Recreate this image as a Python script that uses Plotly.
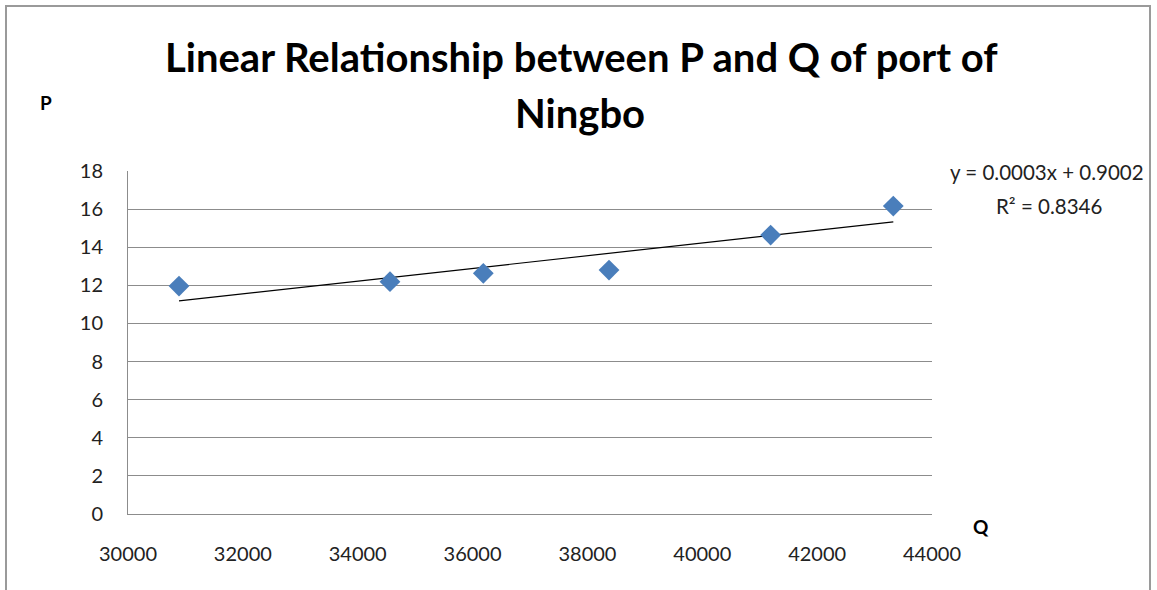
import plotly.graph_objects as go

# Port of Ningbo: throughput Q against P
q_values = [30888, 34562, 36187, 38376, 41190, 43326]
p_values = [11.96, 12.19, 12.63, 12.80, 14.64, 16.16]

# Linear trendline coefficients and goodness of fit
trend_slope = 0.000333
trend_intercept = 0.9002
trend_r2 = 0.8346

x_ticks = [30000, 32000, 34000, 36000, 38000, 40000, 42000, 44000]
y_ticks = [0, 2, 4, 6, 8, 10, 12, 14, 16, 18]

title_lines = ["Linear Relationship between P and Q of port of", "Ningbo"]

FONT = "Lato, Open Sans, sans-serif"
GRID = "#8c8c8c"

trend_x = [min(q_values), max(q_values)]
trend_y = [trend_slope * x + trend_intercept for x in trend_x]

fig = go.Figure()
fig.add_trace(go.Scatter(
    x=trend_x, y=trend_y, mode="lines",
    line=dict(color="black", width=1.2),
    hoverinfo="skip", showlegend=False,
))
fig.add_trace(go.Scatter(
    x=q_values, y=p_values, mode="markers",
    marker=dict(symbol="diamond", size=16, color="#4a7ebb"),
    showlegend=False,
))

fig.update_layout(
    width=1157, height=590,
    margin=dict(l=128, r=225, t=171, b=76),
    paper_bgcolor="white", plot_bgcolor="white",
    font=dict(family=FONT, color="#222"),
    xaxis=dict(
        range=[x_ticks[0], x_ticks[-1]], tickvals=x_ticks,
        tickformat="d",
        showgrid=False, zeroline=False,
        showline=True, linecolor=GRID, linewidth=1,
        ticks="", ticklabelstandoff=22,
        tickfont=dict(size=20, family=FONT, color="#222"),
    ),
    yaxis=dict(
        range=[y_ticks[0], y_ticks[-1]], tickvals=y_ticks,
        tickformat="d",
        showgrid=True, gridcolor=GRID, gridwidth=1,
        zeroline=False,
        showline=True, linecolor=GRID, linewidth=1,
        ticks="", ticklabelstandoff=20,
        tickfont=dict(size=20, family=FONT, color="#222"),
    ),
    shapes=[dict(
        type="rect", xref="paper", yref="paper",
        x0=-122 / 804, x1=1022 / 804, y0=-100 / 343, y1=508 / 343,
        line=dict(color="#9a9a9a", width=2), fillcolor="rgba(0,0,0,0)",
        layer="below",
    )],
)

def px_x(X):
    return (X - 128) / 804

def px_y(Y):
    return (514 - Y) / 343

annotations = [
    dict(text=f"<b>{title_lines[0]}</b>", x=px_x(581), y=px_y(57),
         font=dict(size=40, family=FONT, color="black")),
    dict(text=f"<b>{title_lines[1]}</b>", x=px_x(580), y=px_y(113),
         font=dict(size=40, family=FONT, color="black")),
    dict(text="<b>P</b>", x=px_x(46), y=px_y(103),
         font=dict(size=19, family=FONT, color="black")),
    dict(text="<b>Q</b>", x=px_x(981), y=px_y(526),
         font=dict(size=19, family=FONT, color="black")),
    dict(text=f"y = {trend_slope:.4f}x + {trend_intercept:.4f}", x=px_x(1047), y=px_y(172),
         font=dict(size=20.5, family=FONT, color="#222")),
    dict(text=f"R² = {trend_r2:.4f}", x=px_x(1049), y=px_y(206),
         font=dict(size=20.5, family=FONT, color="#222")),
]
for a in annotations:
    a.update(xref="paper", yref="paper", showarrow=False,
             xanchor="center", yanchor="middle")
fig.update_layout(annotations=annotations)

fig.write_html("out.html")
